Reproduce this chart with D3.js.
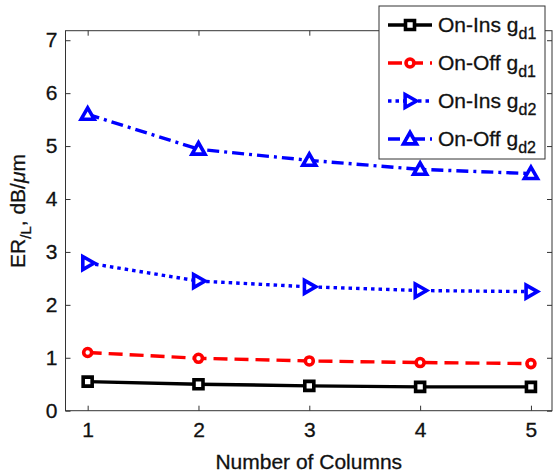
<!DOCTYPE html>
<html><head><meta charset="utf-8">
<script src="https://cdn.jsdelivr.net/npm/d3@7"></script>
<style>body{margin:0;background:#fff}svg{display:block;font-family:Arial,"Liberation Sans",Helvetica,sans-serif}</style>
</head><body>
<svg id="c" width="554" height="474"></svg>
<script>
const columns = [1, 2, 3, 4, 5];
const onInsGd1 = [0.55, 0.50, 0.47, 0.45, 0.45];
const onOffGd1 = [1.10, 0.99, 0.94, 0.91, 0.89];
const onInsGd2 = [2.79, 2.45, 2.34, 2.27, 2.25];
const onOffGd2 = [5.60, 4.94, 4.73, 4.56, 4.48];
const xTicks = [1, 2, 3, 4, 5];
const yTicks = [0, 1, 2, 3, 4, 5, 6, 7];
const seriesNames = ["On-Ins", "On-Off", "On-Ins", "On-Off"];
const seriesSubs = ["d1", "d1", "d2", "d2"];

const series = [
  {name: seriesNames[0], sub: seriesSubs[0], vals: onInsGd1, color: "#000", dash: null, marker: "square"},
  {name: seriesNames[1], sub: seriesSubs[1], vals: onOffGd1, color: "#ff0000", dash: "14,7", marker: "circle"},
  {name: seriesNames[2], sub: seriesSubs[2], vals: onInsGd2, color: "#0000ff", dash: "3.5,4", marker: "right"},
  {name: seriesNames[3], sub: seriesSubs[3], vals: onOffGd2, color: "#0000ff", dash: "12,5,3,5", marker: "up"}
];

const svg = d3.select("#c");
const L = 65.5, R = 552, T = 30.7, B = 410.7;
const x = d3.scaleLinear().domain([0.8, 5.19]).range([L, R]);
const y = d3.scaleLinear().domain([0, 7.18]).range([B, T]);
const axisColor = "#333";
const fam = "Arial, 'Liberation Sans', sans-serif";

// frame
svg.append("rect").attr("x", L).attr("y", T).attr("width", R - L).attr("height", B - T)
  .attr("fill", "none").attr("stroke", axisColor).attr("stroke-width", 1);

// axes with inward ticks
const fs = "21px";
const gx = svg.append("g").attr("transform", `translate(0,${B})`)
  .call(d3.axisBottom(x).tickValues(xTicks).tickSize(-5).tickPadding(11).tickFormat(d3.format("d")));
const gy = svg.append("g").attr("transform", `translate(${L},0)`)
  .call(d3.axisLeft(y).tickValues(yTicks).tickSize(-5).tickPadding(8).tickFormat(d3.format("d")));
const gxt = svg.append("g").attr("transform", `translate(0,${T})`)
  .call(d3.axisTop(x).tickValues(xTicks).tickSize(-5).tickFormat(""));
const gyr = svg.append("g").attr("transform", `translate(${R},0)`)
  .call(d3.axisRight(y).tickValues(yTicks).tickSize(-5).tickFormat(""));
[gx, gy, gxt, gyr].forEach(g => {
  g.select(".domain").remove();
  g.selectAll("line").attr("stroke", axisColor);
  g.selectAll("text").attr("fill", "#111").attr("stroke", "#111").attr("stroke-width", 0.3)
    .style("font-size", fs).style("font-family", fam);
});

// lines
const line = d3.line().x((d, i) => x(columns[i])).y(d => y(d));
const sym = {
  square: s => `M${-s},${-s}h${2*s}v${2*s}h${-2*s}Z`,
  right: s => `M${-s*0.75},${-s}L${s},0L${-s*0.75},${s}Z`,
  up: s => `M0,${-s}L${s},${s*0.75}L${-s},${s*0.75}Z`
};
function drawMarker(g, m, cx, cy, color) {
  if (m === "circle") {
    g.append("circle").attr("cx", cx).attr("cy", cy).attr("r", 4)
      .attr("fill", "#fff").attr("stroke", color).attr("stroke-width", 3.6);
  } else {
    const s = m === "square" ? 4.5 : 6.5;
    g.append("path").attr("d", sym[m](s)).attr("transform", `translate(${cx},${cy})`)
      .attr("fill", "#fff").attr("stroke", color).attr("stroke-width", 3.6).attr("stroke-linejoin", "miter");
  }
}
series.forEach(s => {
  const g = svg.append("g");
  g.append("path").datum(s.vals).attr("d", line).attr("fill", "none")
    .attr("stroke", s.color).attr("stroke-width", 3.4).attr("stroke-dasharray", s.dash);
  s.vals.forEach((v, i) => drawMarker(g, s.marker, x(columns[i]), y(v), s.color));
});

// legend
const lg = svg.append("g");
lg.append("rect").attr("x", 379).attr("y", 6).attr("width", 166).attr("height", 153)
  .attr("fill", "#fff").attr("stroke", "#333").attr("stroke-width", 1);
series.forEach((s, i) => {
  const cy = 25 + i * 38;
  lg.append("line").attr("x1", 388).attr("x2", 432).attr("y1", cy).attr("y2", cy)
    .attr("stroke", s.color).attr("stroke-width", 3.4).attr("stroke-dasharray", s.dash);
  drawMarker(lg, s.marker, 410, cy, s.color);
  const t = lg.append("text").attr("x", 438).attr("y", cy + 7).style("font-size", "21px")
    .style("font-family", fam).attr("fill", "#111").attr("stroke", "#111").attr("stroke-width", 0.3);
  t.append("tspan").text(s.name + " g");
  t.append("tspan").attr("dy", 7).style("font-size", "16px").text(s.sub);
});

// axis titles
svg.append("text").attr("x", (L + R) / 2).attr("y", 469).attr("text-anchor", "middle")
  .style("font-size", "21px").style("font-family", fam).attr("fill", "#111")
  .attr("stroke", "#111").attr("stroke-width", 0.3).text("Number of Columns");
const yl = svg.append("text").attr("transform", "translate(25,211) rotate(-90)").attr("text-anchor", "middle")
  .style("font-size", "21px").style("font-family", fam).attr("fill", "#111")
  .attr("stroke", "#111").attr("stroke-width", 0.3);
yl.append("tspan").text("ER");
yl.append("tspan").attr("dy", 6).style("font-size", "15px").text("/L");
yl.append("tspan").attr("dy", -6).text(", dB/");
yl.append("tspan").style("font-style", "italic").text("μ");
yl.append("tspan").text("m");
</script>
</body></html>
